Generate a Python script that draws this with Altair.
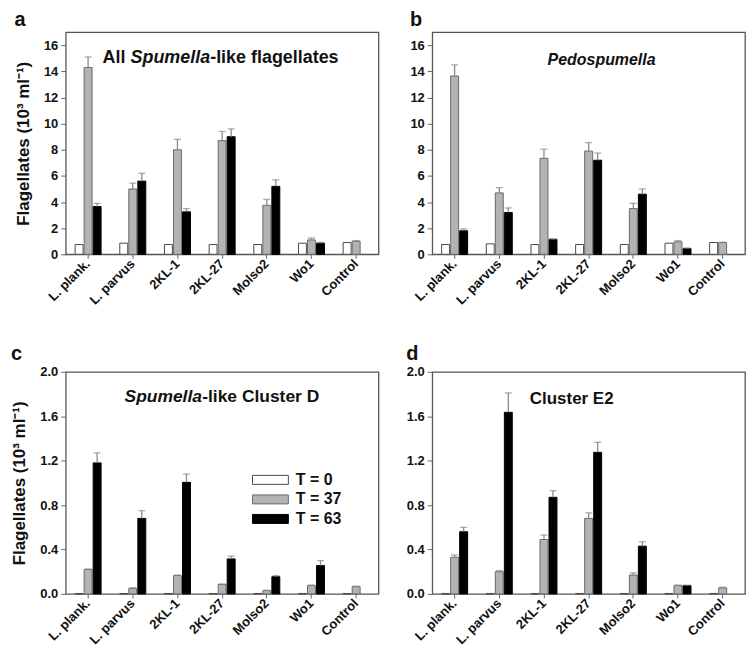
import altair as alt
import pandas as pd

categories = ["L. plank.", "L. parvus", "2KL-1", "2KL-27", "Molso2", "Wo1", "Control"]
series = ["T = 0", "T = 37", "T = 63"]

# Panel a: All Spumella-like flagellates
a_t0 = [0.75, 0.85, 0.75, 0.75, 0.75, 0.85, 0.9]
a_t37 = [14.3, 5.0, 8.0, 8.7, 3.75, 1.1, 1.0]
a_t63 = [3.65, 5.6, 3.25, 9.0, 5.2, 0.85, None]
a_t37_err = [15.1, 5.45, 8.8, 9.4, 4.2, 1.25, 1.05]
a_t63_err = [3.9, 6.2, 3.5, 9.6, 5.7, 0.92, None]

# Panel b: Pedospumella
b_t0 = [0.75, 0.8, 0.75, 0.75, 0.75, 0.85, 0.9]
b_t37 = [13.65, 4.7, 7.35, 7.9, 3.5, 0.95, 0.9]
b_t63 = [1.8, 3.2, 1.15, 7.2, 4.6, 0.45, None]
b_t37_err = [14.5, 5.1, 8.05, 8.55, 3.9, 1.05, 0.93]
b_t63_err = [1.95, 3.55, 1.18, 7.75, 5.0, 0.47, None]

# Panel c: Spumella-like Cluster D
c_t0 = [0.004, 0.004, 0.004, 0.004, 0.004, 0.004, 0.004]
c_t37 = [0.22, 0.05, 0.165, 0.085, 0.03, 0.075, 0.065]
c_t63 = [1.18, 0.68, 1.005, 0.315, 0.155, 0.255, None]
c_t37_err = [0.225, 0.055, 0.17, 0.09, 0.033, 0.08, 0.07]
c_t63_err = [1.27, 0.75, 1.08, 0.34, 0.165, 0.30, None]

# Panel d: Cluster E2
d_t0 = [0.004, 0.004, 0.004, 0.004, 0.004, 0.004, 0.004]
d_t37 = [0.33, 0.2, 0.49, 0.68, 0.17, 0.075, 0.055]
d_t63 = [0.56, 1.635, 0.87, 1.275, 0.43, 0.075, None]
d_t37_err = [0.35, 0.21, 0.53, 0.73, 0.19, 0.08, 0.06]
d_t63_err = [0.60, 1.81, 0.93, 1.365, 0.47, 0.08, None]

ticks_big = [0, 2, 4, 6, 8, 10, 12, 14, 16]
ticks_small = [0.0, 0.4, 0.8, 1.2, 1.6, 2.0]

FONT = "Liberation Sans"
YTITLE = "Flagellates (10³ ml⁻¹)"
W, H = 314, 223


def make_df(t0, t37, t63, e37, e63):
    rows = []
    for i, c in enumerate(categories):
        rows.append({"cat": c, "series": series[0], "value": t0[i], "err": None})
        rows.append({"cat": c, "series": series[1], "value": t37[i], "err": e37[i]})
        if t63[i] is not None:
            rows.append({"cat": c, "series": series[2], "value": t63[i], "err": e63[i]})
    return pd.DataFrame(rows)


def panel(df, ymax, yvals, fmt, ytitle, letter, segments, legend=None):
    x = alt.X("cat:N", sort=categories,
              scale=alt.Scale(paddingInner=0.418, paddingOuter=0.209),
              axis=alt.Axis(labelAngle=315, labelAlign="right", labelBaseline="middle",
                            title=None, tickSize=4, labelPadding=3))
    xo = alt.XOffset("series:N", sort=series, scale=alt.Scale(paddingInner=0.12, paddingOuter=0))
    yaxis = alt.Axis(values=yvals, format=fmt, title=ytitle, tickSize=5, labelPadding=3,
                     titlePadding=11)
    yscale = alt.Scale(domain=[0, ymax], nice=False, zero=True)
    base = alt.Chart(df)
    fill = alt.Fill("series:N", sort=series,
                    scale=alt.Scale(domain=series, range=["#ffffff", "#b3b3b3", "#000000"]),
                    legend=legend)
    stroke = alt.Stroke("series:N", sort=series,
                        scale=alt.Scale(domain=series, range=["#4a4a4a", "#6a6a6a", "#000000"]),
                        legend=legend)
    bars = base.mark_bar(strokeWidth=1).encode(
        x=x, xOffset=xo, y=alt.Y("value:Q", scale=yscale, axis=yaxis), fill=fill, stroke=stroke)
    rule = base.transform_filter("isValid(datum.err)").mark_rule(
        color="#8a8a8a", strokeWidth=1.3).encode(
        x=x, xOffset=xo, y=alt.Y("value:Q", scale=yscale, axis=yaxis), y2="err:Q")
    cap = base.transform_filter("isValid(datum.err)").mark_tick(
        color="#8a8a8a", thickness=1.3, size=7, orient="horizontal").encode(
        x=x, xOffset=xo, y=alt.Y("err:Q", scale=yscale, axis=yaxis))
    layers = [bars, rule, cap]
    for txt, px, py, style, align, fs in segments:
        layers.append(
            alt.Chart(pd.DataFrame({"t": [txt]})).mark_text(
                align=align, baseline="alphabetic", fontSize=fs, fontWeight="bold",
                fontStyle=style, font=FONT, color="#111").encode(
                x=alt.value(px), y=alt.value(py), text="t:N"))
    return alt.layer(*layers).properties(
        width=W, height=H,
        title=alt.TitleParams(letter, anchor="start", frame="bounds", fontSize=20,
                              fontWeight="bold", font=FONT, offset=2, color="#111"))


legend_c = alt.Legend(orient="none", legendX=196, legendY=99, title=None, padding=0,
                      symbolType="M-2,-0.5L2,-0.5L2,0.5L-2,0.5Z", symbolSize=324,
                      symbolStrokeWidth=1, labelFontSize=16, labelFontWeight="bold",
                      labelFont=FONT, labelColor="#111", labelOffset=16, rowPadding=1.6)

pa = panel(make_df(a_t0, a_t37, a_t63, a_t37_err, a_t63_err), 17, ticks_big, "d", YTITLE, "a",
           [("All", 37, 31, "normal", "left", 18), ("Spumella", 65, 31, "italic", "left", 18),
            ("-like flagellates", 145, 31, "normal", "left", 18)])
pb = panel(make_df(b_t0, b_t37, b_t63, b_t37_err, b_t63_err), 17, ticks_big, "d", None, "b",
           [("Pedospumella", 170, 33, "italic", "center", 16)])
pc = panel(make_df(c_t0, c_t37, c_t63, c_t37_err, c_t63_err), 2.0, ticks_small, ".1f", YTITLE, "c",
           [("Spumella", 59, 30, "italic", "left", 17.5),
            ("-like Cluster D", 137, 30, "normal", "left", 17.5)],
           legend=legend_c)
pd_ = panel(make_df(d_t0, d_t37, d_t63, d_t37_err, d_t63_err), 2.0, ticks_small, ".1f", None, "d",
            [("Cluster E2", 140, 32, "normal", "center", 17)])

chart = alt.concat(pa, pb, pc, pd_, columns=2, spacing={"row": 35, "column": 26}).resolve_scale(
    fill="independent", stroke="independent", x="independent", y="independent"
).resolve_legend(fill="independent", stroke="independent").properties(
    padding={"left": 2, "top": 0, "right": 0, "bottom": 0}
).configure_view(stroke="#555555", strokeWidth=1.3).configure_axis(
    domain=False, grid=False, labelFont=FONT, labelFontSize=13, labelFontWeight="bold",
    labelColor="#111111", tickColor="#666666", titleFont=FONT, titleFontSize=17,
    titleFontWeight="bold", titleColor="#111111"
)

chart.save("out.html", embed_options={"renderer": "svg", "actions": False})
